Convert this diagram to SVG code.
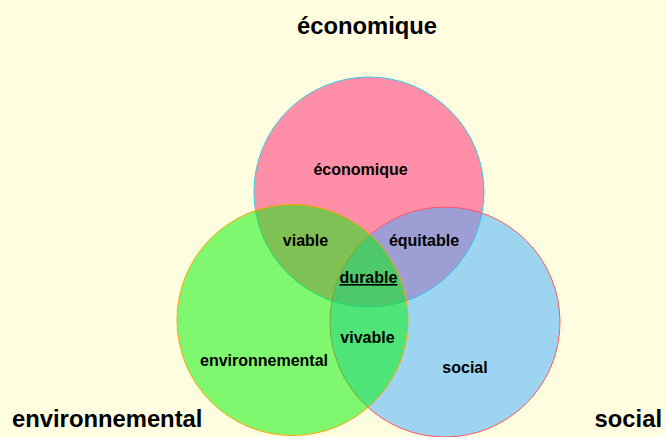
<svg xmlns="http://www.w3.org/2000/svg" width="666" height="437" viewBox="0 0 666 437">
<style>
text{font-family:"Liberation Sans",Arial,sans-serif;font-weight:bold;fill:#000}
.big{font-size:23.8px}
.sm{font-size:16px;text-anchor:middle}
</style>
<rect width="666" height="437" fill="#FFFDE0"/>
<g id="eco"><circle cx="369" cy="192" r="115" fill="#FF2171" fill-opacity="0.5" stroke="#33CCDD" stroke-width="1"/></g>
<g id="soc"><circle cx="445" cy="322" r="115" fill="#3BADFF" fill-opacity="0.5" stroke="#FF5566" stroke-width="1"/></g>
<g id="env"><circle cx="292.5" cy="320" r="115.5" fill="#00F300" fill-opacity="0.5" stroke="#FFA500" stroke-width="1"/></g>
<g id="connectors"></g>
<g id="labels">
<text class="big" x="367" y="33.5" text-anchor="middle">économique</text>
<text class="big" x="12" y="427">environnemental</text>
<text class="big" x="662" y="427" text-anchor="end">social</text>
<text class="sm" x="360.5" y="175">économique</text>
<text class="sm" x="305.5" y="246">viable</text>
<text class="sm" x="424" y="246">équitable</text>
<text class="sm" x="368.5" y="283" text-decoration="underline">durable</text>
<text class="sm" x="367.5" y="343">vivable</text>
<text class="sm" x="264" y="366">environnemental</text>
<text class="sm" x="465" y="373">social</text>
</g>
</svg>
